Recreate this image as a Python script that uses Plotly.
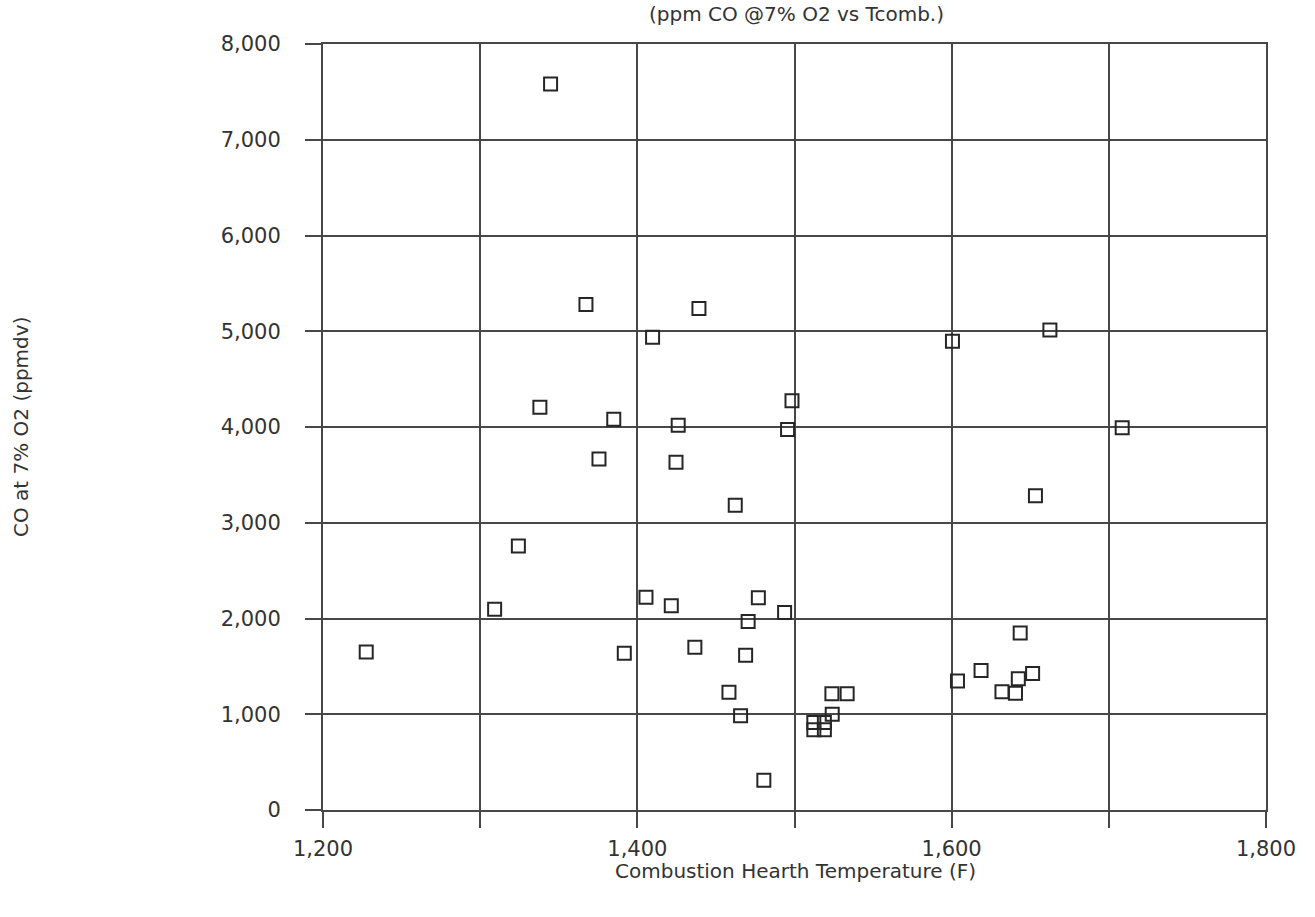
import plotly.graph_objects as go

# Combustion hearth temperature (F)
temp_f = [1344.8, 1367.3, 1439.2, 1409.7, 1338.0, 1385.0, 1426.0, 1498.4, 1495.6,
          1375.6, 1424.6, 1462.3, 1324.3, 1309.2, 1405.5, 1421.6, 1477.0, 1493.7,
          1470.5, 1227.5, 1391.7, 1436.6, 1468.9, 1458.3, 1465.7, 1480.5,
          1600.5, 1662.5, 1708.5, 1653.3, 1643.6, 1618.7, 1603.7, 1651.5, 1642.4,
          1632.0, 1640.6, 1523.8, 1533.5, 1524.0, 1512.3, 1512.3, 1519.0, 1519.0]
# CO at 7% O2 (ppmdv)
co_ppm = [7582, 5280, 5238, 4938, 4207, 4082, 4019, 4273, 3974,
          3665, 3633, 3184, 2756, 2097, 2223, 2132, 2218, 2062,
          1968, 1651, 1637, 1700, 1617, 1230, 985, 310,
          4895, 5014, 3993, 3281, 1848, 1457, 1346, 1426, 1370,
          1234, 1220, 1213, 1213, 1000, 913, 837, 913, 837]

x_tickvals = [1200, 1300, 1400, 1500, 1600, 1700, 1800]
x_ticktext = ["1,200", "", "1,400", "", "1,600", "", "1,800"]
y_tickvals = [0, 1000, 2000, 3000, 4000, 5000, 6000, 7000, 8000]
y_ticktext = ["0", "1,000", "2,000", "3,000", "4,000", "5,000", "6,000", "7,000", "8,000"]

title_text = "(ppm CO @7% O2 vs Tcomb.)"
x_title = "Combustion Hearth Temperature (F)"
y_title = "CO at 7% O2 (ppmdv)"

LINE = "#474747"
TEXT = "#333333"
FONT = "DejaVu Sans"

W, H = 1315, 917
ML, MT = 323, 44
MR = W - 1266
MB = H - 810
PW = W - ML - MR
PH = H - MT - MB

fig = go.Figure()
fig.add_trace(go.Scatter(
    x=temp_f, y=co_ppm, mode="markers",
    marker=dict(symbol="square-open", size=13, color="#262626",
                line=dict(width=2, color="#262626")),
    showlegend=False,
))

axis_common = dict(
    showgrid=True, gridcolor=LINE, gridwidth=2,
    showline=True, linecolor=LINE, linewidth=2, mirror=True,
    ticks="outside", ticklen=16, tickwidth=2, tickcolor=LINE,
    zeroline=False,
    tickfont=dict(family=FONT, size=21, color=TEXT),
)

fig.update_xaxes(range=[1200, 1800], tickmode="array", tickvals=x_tickvals,
                 ticktext=x_ticktext, ticklabelstandoff=3, **axis_common)
fig.update_yaxes(range=[0, 8000], tickmode="array", tickvals=y_tickvals,
                 ticktext=y_ticktext, ticklabelstandoff=20, **axis_common)

def px_x(p):
    return (p - ML) / PW

def px_y(p):
    return (H - MB - p) / PH

fig.add_annotation(text=title_text, xref="paper", yref="paper",
                   x=px_x(796), y=px_y(14), xanchor="center", yanchor="middle",
                   showarrow=False, font=dict(family=FONT, size=20, color=TEXT))
fig.add_annotation(text=x_title, xref="paper", yref="paper",
                   x=px_x(795), y=px_y(871), xanchor="center", yanchor="middle",
                   showarrow=False, font=dict(family=FONT, size=20, color=TEXT))
fig.add_annotation(text=y_title, xref="paper", yref="paper",
                   x=px_x(21), y=px_y(427), xanchor="center", yanchor="middle",
                   textangle=-90, showarrow=False,
                   font=dict(family=FONT, size=20, color=TEXT))

fig.update_layout(
    width=W, height=H,
    margin=dict(l=ML, r=MR, t=MT, b=MB, autoexpand=False),
    plot_bgcolor="white", paper_bgcolor="white",
    font=dict(family=FONT, color=TEXT),
)

fig.write_html("out.html",
               config={"displayModeBar": False},
               post_script="document.body.style.margin='0';"
                           "document.body.style.overflow='hidden';")
